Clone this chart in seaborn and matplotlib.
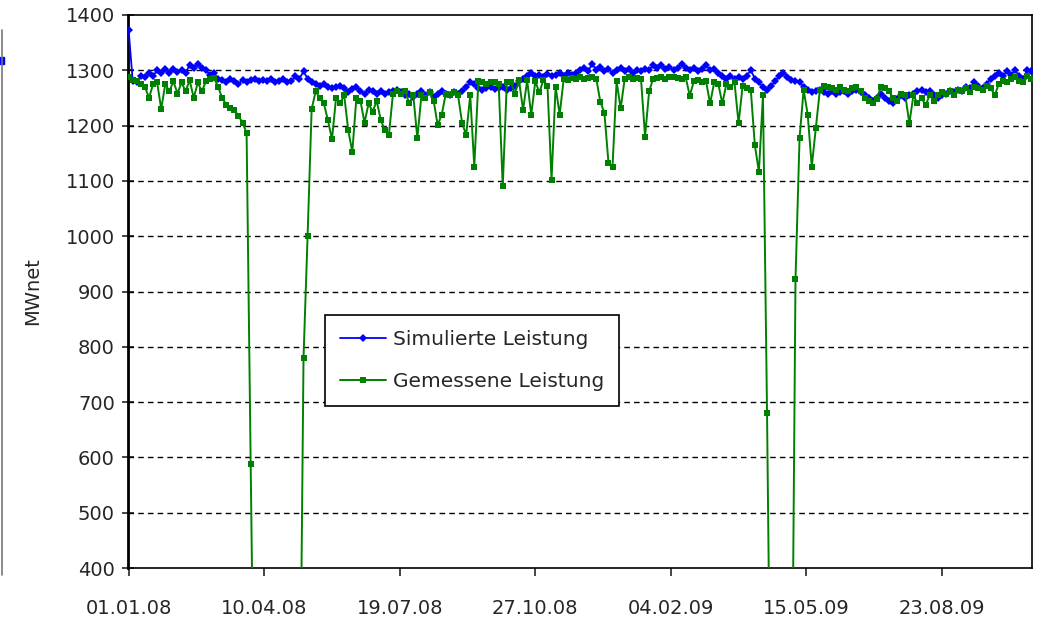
import numpy as np
import pandas as pd
import matplotlib
matplotlib.use("Agg")
import matplotlib.pyplot as plt
from matplotlib.lines import Line2D
from matplotlib.patches import Rectangle
import seaborn as sns

# ---------------- data (values every 3 days starting 01.01.2008) ----------------
start_date = "2008-01-01"
step_days = 3

simulierte = [
    1372, 1280, 1278, 1290, 1288, 1295, 1290, 1300, 1295, 1302,
    1296, 1303, 1297, 1300, 1295, 1310, 1305, 1312, 1305, 1300,
    1292, 1295, 1285, 1282, 1278, 1285, 1280, 1275, 1283, 1278,
    1282, 1285, 1280, 1283, 1280, 1284, 1278, 1280, 1285, 1278,
    1280, 1290, 1285, 1298, 1285, 1278, 1275, 1272, 1275, 1270,
    1268, 1270, 1272, 1268, 1260, 1266, 1270, 1262, 1258, 1265,
    1262, 1258, 1262, 1258, 1260, 1262, 1265, 1260, 1255, 1258,
    1252, 1258, 1262, 1255, 1260, 1252, 1258, 1262, 1258, 1255,
    1260, 1258, 1262, 1270, 1278, 1275, 1268, 1265, 1268, 1270,
    1266, 1268, 1270, 1265, 1268, 1272, 1280, 1285, 1290, 1295,
    1290, 1292, 1288, 1293, 1290, 1292, 1295, 1290, 1296, 1292,
    1295, 1300, 1305, 1298, 1312, 1300, 1306, 1298, 1302, 1296,
    1300, 1305, 1298, 1302, 1296, 1300, 1298, 1302, 1300, 1310,
    1305, 1310, 1302, 1306, 1300, 1305, 1312, 1305, 1300, 1304,
    1298, 1302, 1310, 1300, 1302, 1295, 1290, 1285, 1290, 1285,
    1288, 1285, 1290, 1300, 1285, 1278, 1270, 1265, 1272, 1280,
    1290, 1296, 1288, 1282, 1280, 1278, 1270, 1265, 1260, 1262,
    1265, 1260, 1258, 1262, 1258, 1260, 1262, 1258, 1262, 1265,
    1260, 1255, 1250, 1245, 1250, 1258, 1250, 1245, 1240, 1248,
    1255, 1250, 1255, 1258, 1262, 1265, 1260, 1262, 1255, 1250,
    1255, 1258, 1262, 1260, 1265, 1262, 1270, 1268, 1278, 1272,
    1268, 1275, 1285, 1290, 1295, 1290, 1298, 1292, 1300, 1290,
    1285, 1300, 1298,
]

gemessene = [
    1288, 1282, 1280, 1275, 1270, 1250, 1275, 1278, 1230, 1275,
    1262, 1280, 1258, 1278, 1262, 1282, 1250, 1278, 1262, 1280,
    1285, 1286, 1270, 1250, 1238, 1232, 1228, 1218, 1205, 1187,
    588, 0, 0, 0, 0, 0, 0, 0, 0, 0,
    0, 0, 0, 780, 1000, 1230, 1262, 1250, 1240, 1210,
    1175, 1250, 1240, 1255, 1192, 1152, 1250, 1245, 1205, 1240,
    1225, 1245, 1210, 1192, 1183, 1258, 1262, 1258, 1262, 1240,
    1255, 1177, 1255, 1250, 1260, 1245, 1201, 1220, 1258, 1255,
    1260, 1255, 1205, 1183, 1255, 1126, 1280, 1278, 1276, 1278,
    1278, 1276, 1090, 1278, 1278, 1258, 1282, 1228, 1282, 1219,
    1280, 1260, 1282, 1272, 1102, 1270, 1220, 1285, 1283, 1286,
    1285, 1288, 1284, 1286, 1288, 1285, 1243, 1223, 1133, 1126,
    1280, 1231, 1285, 1287, 1284, 1286, 1285, 1180, 1262, 1285,
    1286, 1288, 1285, 1287, 1288, 1286, 1285, 1287, 1254, 1280,
    1282, 1278, 1280, 1240, 1278, 1276, 1240, 1275, 1270, 1278,
    1204, 1272, 1268, 1265, 1165, 1116, 1255, 680, 0, 0,
    0, 0, 0, 0, 922, 1178, 1265, 1220, 1126, 1195,
    1265, 1272, 1270, 1268, 1265, 1270, 1265, 1262, 1268, 1270,
    1262, 1250, 1245, 1240, 1248, 1270, 1268, 1262, 1250, 1245,
    1258, 1255, 1204, 1255, 1240, 1250, 1237, 1255, 1245, 1255,
    1260, 1258, 1262, 1255, 1265, 1262, 1268, 1260, 1270, 1268,
    1265, 1272, 1268, 1255, 1275, 1280, 1278, 1285, 1288, 1280,
    1278, 1290, 1285,
]

series_labels = ["Simulierte Leistung", "Gemessene Leistung"]
tick_labels = ["01.01.08", "10.04.08", "19.07.08", "27.10.08",
               "04.02.09", "15.05.09", "23.08.09"]
y_label = "MWnet"

dates = pd.date_range(start_date, periods=len(simulierte), freq=f"{step_days}D")
df = pd.DataFrame({"Datum": dates, series_labels[0]: simulierte,
                   series_labels[1]: gemessene})

# ---------------- style ----------------
sns.set_style("white")
plt.rcParams["font.family"] = ["DejaVu Sans"]

fig = plt.figure(figsize=(10.39, 6.26), dpi=100)
ax = fig.add_axes([128 / 1039, 1 - 568 / 626, (1032 - 128) / 1039, (568 - 15) / 626])

sns.lineplot(data=df, x="Datum", y=series_labels[0], ax=ax, color="#0000FF",
             marker="D", markersize=3.8, markeredgewidth=0, linewidth=1.3,
             label=series_labels[0], zorder=3)
sns.lineplot(data=df, x="Datum", y=series_labels[1], ax=ax, color="#008000",
             marker="s", markersize=5.0, markeredgewidth=0, linewidth=1.4,
             label=series_labels[1], zorder=4)

t0 = pd.Timestamp(start_date)
ax.set_xlim(t0 - pd.Timedelta(days=0.5), t0 + pd.Timedelta(days=666.5))
ax.set_ylim(400, 1400)
ax.set_yticks(np.arange(400, 1401, 100))
tick_dates = [pd.to_datetime(t, format="%d.%m.%y") for t in tick_labels]
ax.set_xticks(tick_dates)
ax.set_xticklabels(tick_labels)

ax.set_xlabel("")
ax.set_ylabel(y_label, fontsize=14, labelpad=17)

ax.tick_params(axis="y", direction="inout", length=9, width=1.2,
               labelsize=14, pad=5, left=True)
ax.tick_params(axis="x", direction="out", length=6, width=1.2,
               labelsize=14, pad=16, bottom=True)

for a in np.arange(500, 1400, 100):
    ax.axhline(a, color="black", linestyle=(0, (4, 3)), linewidth=1.0, zorder=1)

for side, sp in ax.spines.items():
    sp.set_visible(True)
    sp.set_color("black")
    sp.set_linewidth(1.2)
ax.spines["left"].set_linewidth(2.0)

leg = ax.legend(loc="upper left", bbox_to_anchor=(0.218, 0.458),
                fontsize=14.5, frameon=True, fancybox=False, framealpha=1,
                edgecolor="black", labelspacing=1.15, handlelength=2.3,
                handletextpad=0.3, borderpad=0.75, borderaxespad=0)
leg.get_frame().set_linewidth(1.2)
for h in leg.legend_handles:
    h.set_markersize(4)

# artefact at the very left edge of the reference image
fig.add_artist(Line2D([2 / 1039, 2 / 1039], [1 - 575 / 626, 1 - 30 / 626],
                      color="#777777", linewidth=1.2, transform=fig.transFigure))
fig.add_artist(Rectangle((0, 1 - 64 / 626), 4 / 1039, 7 / 626,
                         color="#0000FF", transform=fig.transFigure))

fig.savefig("out.png", dpi=100)
